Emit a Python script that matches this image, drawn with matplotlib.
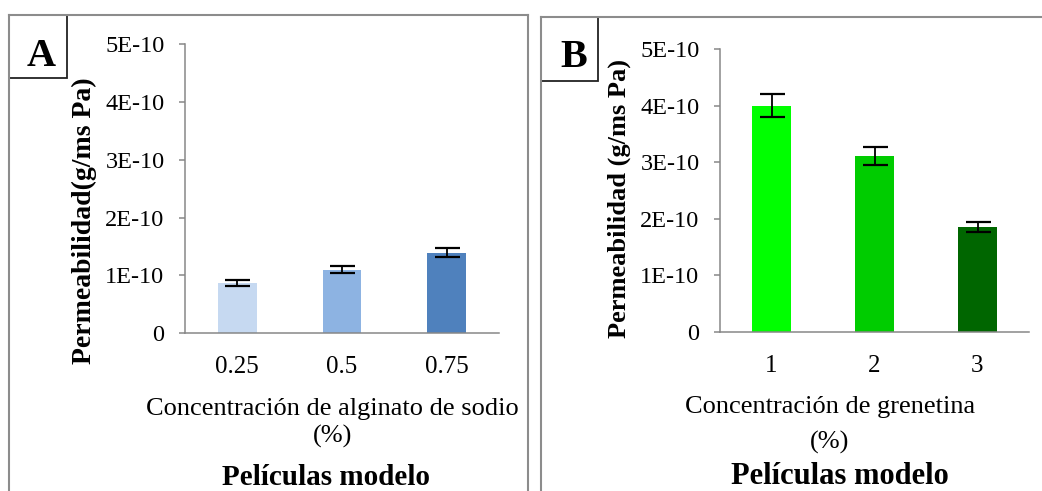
import numpy as np
import matplotlib
matplotlib.use('Agg')
import matplotlib.pyplot as plt
from matplotlib.lines import Line2D
from matplotlib.patches import Rectangle

plt.rcParams['font.family'] = ['Liberation Serif', 'DejaVu Serif']

# data
a_cats = ['0.25', '0.5', '0.75']
a_vals = [0.87e-10, 1.10e-10, 1.39e-10]
a_err = [0.05e-10, 0.058e-10, 0.078e-10]
a_colors = ['#C6D9F1', '#8DB3E2', '#4F81BD']

b_cats = ['1', '2', '3']
b_vals = [4.0e-10, 3.11e-10, 1.85e-10]
b_err = [0.2e-10, 0.156e-10, 0.094e-10]
b_colors = ['#00FF00', '#00CC00', '#006600']

y_ticks = [0, 1e-10, 2e-10, 3e-10, 4e-10, 5e-10]
y_labels = ['0', '1E-10', '2E-10', '3E-10', '4E-10', '5E-10']

W, H = 1042, 491
fig = plt.figure(figsize=(W / 100, H / 100), dpi=100)
fig.patch.set_facecolor('white')

def fx(px):
    return px / W

def fy(py):
    return 1 - py / H

grey = '#878787'

def panel(rect, cats, vals, err, colors):
    l, t, r, b = rect
    ax = fig.add_axes([fx(l), fy(b), fx(r) - fx(l), fy(t) - fy(b)])
    x = np.arange(len(cats))
    ax.bar(x, vals, width=0.37, color=colors, yerr=err, capsize=9,
           error_kw=dict(elinewidth=1.3, capthick=1.6, ecolor='black'))
    ax.set_xlim(-0.5, len(cats) - 0.5)
    ax.set_ylim(0, 5e-10)
    ax.set_yticks(y_ticks)
    ax.set_yticklabels(y_labels)
    ax.set_xticks(x)
    ax.set_xticklabels(cats)
    for s in ['top', 'right']:
        ax.spines[s].set_visible(False)
    for s in ['left', 'bottom']:
        ax.spines[s].set_color(grey)
        ax.spines[s].set_linewidth(1.1)
    ax.tick_params(axis='y', direction='out', length=4.3, width=1.1, color=grey,
                   pad=10.5, labelsize=17.5)
    ax.tick_params(axis='x', length=0, pad=16.5, labelsize=18)
    return ax

ax_a = panel((185, 44, 499, 333.3), a_cats, a_vals, a_err, a_colors)
ax_b = panel((720, 49, 1029, 331.7), b_cats, b_vals, b_err, b_colors)

# axis titles
fig.text(fx(84), fy(221), 'Permeabilidad(g/ms Pa)', rotation=90, ha='center', va='center',
         fontsize=20, fontweight='bold')
fig.text(fx(619), fy(198), 'Permeabilidad (g/ms Pa)', rotation=90, ha='center', va='center',
         fontsize=19, fontweight='bold')

fig.text(fx(332), fy(415), 'Concentración de alginato de sodio', ha='center', va='baseline', fontsize=19)
fig.text(fx(333), fy(443), '(%)', ha='center', va='baseline', fontsize=19)
fig.text(fx(326), fy(485), 'Películas modelo', ha='center', va='baseline', fontsize=21, fontweight='bold')

fig.text(fx(830), fy(413), 'Concentración de grenetina', ha='center', va='baseline', fontsize=19)
fig.text(fx(830), fy(449), '(%)', ha='center', va='baseline', fontsize=19)
fig.text(fx(840), fy(484), 'Películas modelo', ha='center', va='baseline', fontsize=22, fontweight='bold')

# panel frames
frame = '#8c8c8c'
for xs, ys in [((9, 9), (15, 491)), ((9, 528), (15, 15)), ((528, 528), (15, 491)),
               ((541, 541), (17, 491)), ((541, 1042), (17, 17))]:
    fig.add_artist(Line2D([fx(v) for v in xs], [fy(v) for v in ys], color=frame, lw=1.5))

# letter boxes
for (l, t, r, b), letter, cx, base in [((9, 15, 67, 78), 'A', 41, 66),
                                       ((541, 17, 598, 81), 'B', 574, 66.7)]:
    fig.add_artist(Rectangle((fx(l), fy(b)), fx(r) - fx(l), fy(t) - fy(b),
                             transform=fig.transFigure, fill=False, edgecolor='#222222', lw=1.3))
    fig.text(fx(cx), fy(base), letter, ha='center', va='baseline', fontsize=29, fontweight='bold')

fig.savefig('out.png', dpi=100)
